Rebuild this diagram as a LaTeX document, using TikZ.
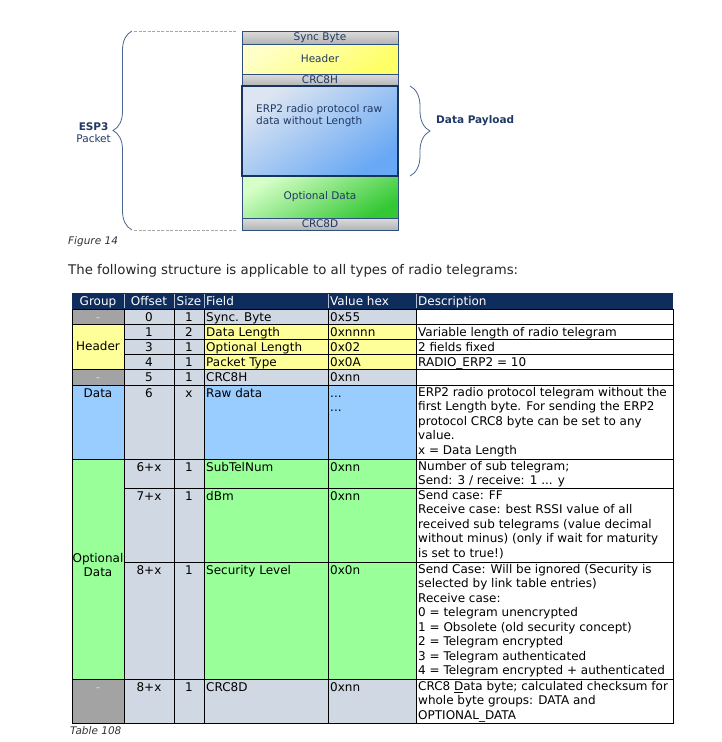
\documentclass[tikz,border=0pt]{standalone}
\usepackage{fontspec}
\setmainfont{DejaVu Sans}
\usetikzlibrary{positioning, decorations.pathreplacing}

\definecolor{navytext}{HTML}{1F3864}
\definecolor{boxline}{HTML}{2F4F7F}
\definecolor{erpline}{HTML}{17345E}
\definecolor{braceline}{HTML}{4A6790}
\definecolor{headnavy}{HTML}{0E2C5C}
\definecolor{graycell}{HTML}{A3A3A3}
\definecolor{bluegray}{HTML}{D0D8E3}
\definecolor{yelcell}{HTML}{FFFF99}
\definecolor{bluecell}{HTML}{99CCFF}
\definecolor{greencell}{HTML}{99FF99}
\definecolor{captext}{HTML}{333333}
\definecolor{hdrlight}{HTML}{FFFFC8}
\definecolor{hdrdark}{HTML}{FFFF66}
\definecolor{erplight}{HTML}{DCE5F1}
\definecolor{erpdark}{HTML}{68A8F4}
\definecolor{optlight}{HTML}{D6FFC8}
\definecolor{optdark}{HTML}{34C834}
\definecolor{crclight}{HTML}{DCDCDC}
\definecolor{crcdark}{HTML}{B4B4B4}

\newcommand{\figfont}{\fontsize{10.5}{12}\selectfont}
\newcommand{\tabfont}{\fontsize{12}{14.5}\selectfont}

\tikzstyle{pktbox} = [
  rectangle,
  minimum width=156pt, inner sep=0pt, outer sep=0pt,
  draw=boxline, line width=0.8pt,
  text=navytext, font=\figfont
]
\tikzstyle{crcbox} = [pktbox, top color=crclight, bottom color=crcdark]
\tikzstyle{hdrbox} = [pktbox, top color=hdrlight, bottom color=hdrdark, shading angle=35]
\tikzstyle{erpbox} = [pktbox, top color=erplight, bottom color=erpdark, shading angle=35]
\tikzstyle{optbox} = [pktbox, top color=optlight, bottom color=optdark, shading angle=30]

\tikzset{
  bracket/.style={draw=braceline, line width=0.8pt, decorate},
  guide/.style={draw=black!35, line width=0.8pt, dash pattern=on 3pt off 1.5pt},
  cell/.style={draw=black, line width=0.9pt},
  ctext/.style={font=\tabfont, inner sep=0pt, execute at begin node=\strut},
  ltext/.style={ctext, anchor=north west, align=left},
  htext/.style={ctext, text=white, anchor=north},
  dashcell/.style={ctext, anchor=north, text=white!85!black},
  dotstext/.style={font=\tabfont, inner sep=0pt, anchor=base west}
}

\begin{document}
\begin{tikzpicture}[
  x=1pt, y=-1pt,
  node distance=0pt,
  font=\figfont
]
\useasboundingbox (0,0) rectangle (722,742);

% ------------------------------------------------
% PAQUETE ESP3 (arriba)
% ------------------------------------------------

\node[crcbox, minimum height=13pt] (sync) at (320,37.5) {Sync Byte};
\node[hdrbox, minimum height=30pt, below=of sync] (hdr) {Header};
\node[crcbox, minimum height=12pt, below=of hdr] (crch) {CRC8H};
\node[erpbox, minimum height=90pt, below=of crch] (erp) {};
\node[optbox, minimum height=42pt, below=of erp] (opt) {Optional Data};
\node[crcbox, minimum height=12pt, below=of opt] (crcd) {CRC8D};
\draw[draw=erpline, line width=1.8pt] (erp.north west) rectangle (erp.south east);

\node[anchor=north west, align=left, inner sep=0pt, text=navytext]
  (erptxt) at ([xshift=14pt, yshift=-18pt]erp.north west)
  {ERP2 radio protocol raw\\data without Length};

% llaves y guias
\coordinate (pkttop) at ([xshift=-110pt]sync.north west);
\coordinate (pktbot) at ([xshift=-110pt]crcd.south west);
\coordinate (guidetop) at ([xshift=-108pt]sync.north west);
\coordinate (guidebot) at ([xshift=-108pt]crcd.south west);
\coordinate (guidetopend) at ([xshift=-5pt]sync.north west);
\coordinate (guidebotend) at ([xshift=-5pt]crcd.south west);
\coordinate (payloadtop) at ([xshift=12pt]erp.north east);
\coordinate (payloadbot) at ([xshift=12pt]erp.south east);

\draw[bracket, decoration={brace, amplitude=19pt}] (pktbot) -- (pkttop);
\draw[bracket, decoration={brace, amplitude=20pt}] (payloadtop) -- (payloadbot);
\draw[guide] (guidetop) -- (guidetopend);
\draw[guide] (guidebot) -- (guidebotend);

\node[anchor=east, align=center, inner sep=0pt, text=navytext]
  (esp) at ([xshift=-131pt, yshift=-2pt]erp.west) {\textbf{ESP3}\\Packet};
\node[anchor=west, inner sep=0pt, text=navytext, font=\figfont\bfseries]
  (payload) at ([xshift=38pt, yshift=10pt]erp.east) {Data Payload};

\node[anchor=base west, inner sep=0pt, text=captext, font=\figfont\itshape]
  (fig) at (68,244) {Figure 14};

\node[anchor=base west, inner sep=0pt, text=black!85, font=\fontsize{13.3}{15}\selectfont]
  (intro) at (68,274.5) {The following structure is applicable to all types of radio telegrams:};

% ------------------------------------------------
% TABLA (abajo)
% ------------------------------------------------

% cabecera
\fill[headnavy] (72,293) rectangle (673,309);
\foreach \x in {124,174,204,328,416}
  \draw[white!70!headnavy, line width=0.8pt] (\x,294) -- (\x,308);
\node[htext] (hgroup) at (98,295) {Group};
\node[htext] (hoffset) at (149,295) {Offset};
\node[htext] (hsize) at (189,295) {Size};
\node[htext, anchor=north west] (hfield) at (206,295) {Field};
\node[htext, anchor=north west] (hvalue) at (330,295) {Value hex};
\node[htext, anchor=north west] (hdesc) at (418,295) {Description};

% celdas fila por fila
\foreach \rt/\rb/\fc in {309/324/bluegray, 324/339/yelcell, 339/354/yelcell,
  354/369/yelcell, 369/385/bluegray, 385/459/bluecell, 459/488/greencell,
  488/562/greencell, 562/679/greencell, 679/723/bluegray}{
  \filldraw[cell, fill=bluegray] (124,\rt) rectangle (174,\rb) (174,\rt) rectangle (204,\rb);
  \filldraw[cell, fill=\fc] (204,\rt) rectangle (328,\rb) (328,\rt) rectangle (416,\rb);
  \filldraw[cell, fill=white] (416,\rt) rectangle (673,\rb);
}

% columna Group
\foreach \rt/\rb/\fc in {309/324/graycell, 324/369/yelcell, 369/385/graycell,
  385/459/bluecell, 459/679/greencell, 679/723/graycell}
  \filldraw[cell, fill=\fc] (72,\rt) rectangle (124,\rb);

\node[dashcell] (grp0) at (98,311) {-};
\node[ctext] (grp1) at (98,347.5) {Header};
\node[dashcell] (grp4) at (98,371) {-};
\node[ctext, anchor=north] (grp5) at (98,387) {Data};
\node[ctext, anchor=north, align=center] (grp6) at (98,553) {Optional\\Data};
\node[dashcell] (grp9) at (98,681) {-};

% Offset, Size, Field, Value hex
\foreach \n/\rt/\off/\sz/\fld/\val in {
  0/309/0/1/{Sync. Byte}/0x55,
  1/324/1/2/{Data Length}/0xnnnn,
  2/339/3/1/{Optional Length}/0x02,
  3/354/4/1/{Packet Type}/0x0A,
  4/369/5/1/CRC8H/0xnn,
  5/385/6/x/{Raw data}/{},
  6/459/6+x/1/SubTelNum/0xnn,
  7/488/7+x/1/dBm/0xnn,
  8/562/8+x/1/{Security Level}/0x0n,
  9/679/8+x/1/CRC8D/0xnn}{
  \node[ctext, anchor=north] (off\n) at (149,\rt+2) {\off};
  \node[ctext, anchor=north] (size\n) at (189,\rt+2) {\sz};
  \node[ltext] (field\n) at (206,\rt+2) {\fld};
  \node[ltext] (val\n) at (330,\rt+2) {\val};
}
\node[dotstext] (dots5a) at (330,397) {...};
\node[dotstext] (dots5b) at (330,411.5) {...};

% Description
\node[ltext] (desc1) at (418,326) {Variable length of radio telegram};
\node[ltext] (desc2) at (418,341) {2 fields fixed};
\node[ltext] (desc3) at (418,356) {RADIO\_ERP2 = 10};
\node[ltext] (desc5) at (418,387) {%
  ERP2 radio protocol telegram without the\\
  first Length byte. For sending the ERP2\\
  protocol CRC8 byte can be set to any\\
  value.\\
  x = Data Length};
\node[ltext] (desc6) at (418,461) {%
  Number of sub telegram;\\
  Send: 3 / receive: 1 ... y};
\node[ltext] (desc7) at (418,490) {%
  Send case: FF\\
  Receive case: best RSSI value of all\\
  received sub telegrams (value decimal\\
  without minus) (only if wait for maturity\\
  is set to true!)};
\node[ltext] (desc8) at (418,564) {%
  Send Case: Will be ignored (Security is\\
  selected by link table entries)\\
  Receive case:\\
  0 = telegram unencrypted\\
  1 = Obsolete (old security concept)\\
  2 = Telegram encrypted\\
  3 = Telegram authenticated\\
  4 = Telegram encrypted + authenticated};
\node[ltext] (desc9) at (418,681) {%
  CRC8 \underline{D}ata byte; calculated checksum for\\
  whole byte groups: DATA and\\
  OPTIONAL\_DATA};

\draw[cell] (72,309) rectangle (673,723);

\node[anchor=base west, inner sep=0pt, text=captext, font=\figfont\itshape]
  (tab) at (70,734) {Table 108};

\end{tikzpicture}
\end{document}
